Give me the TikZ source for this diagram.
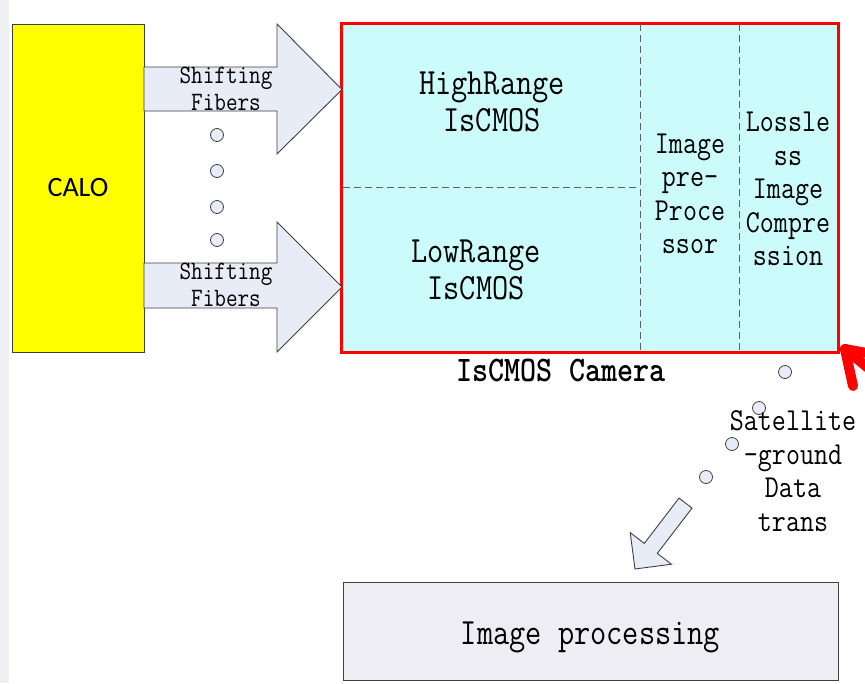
\documentclass[tikz,border=0pt]{standalone}
\usepackage{fontspec}
\newfontfamily\calofont{Carlito}
\usetikzlibrary{calc}
\definecolor{calofill}{HTML}{FFFF00}
\definecolor{camfill}{HTML}{CCFBFB}
\definecolor{arrfill}{HTML}{E8ECF6}
\definecolor{procfill}{HTML}{EFEDF4}
\definecolor{edgegray}{HTML}{404040}
\definecolor{dashgray}{HTML}{606060}
\definecolor{stripgray}{HTML}{EEF0F4}
\tikzset{
  box/.style={draw=edgegray, line width=1pt, inner sep=0pt},
  blockarrow/.style={draw=edgegray, fill=arrfill, line width=0.9pt, line join=miter},
  dot/.style={circle, draw=edgegray, fill=arrfill, line width=0.8pt, minimum size=13pt, inner sep=0pt},
  sepline/.style={draw=dashgray, line width=0.8pt, dash pattern=on 7pt off 4pt},
  lbl/.style={inner sep=0pt, align=center, xscale=0.85},
  biglbl/.style={lbl, font=\fontsize{37}{37}\selectfont\ttfamily},
  midlbl/.style={lbl, font=\fontsize{32}{33.5}\selectfont\ttfamily},
  smalllbl/.style={lbl, font=\fontsize{26.5}{27}\selectfont\ttfamily},
  redstroke/.style={draw=red, line width=10pt, line cap=round},
}
\begin{document}
\begin{tikzpicture}[x=1pt,y=-1pt]
\useasboundingbox (0,0) rectangle (865,683);
\fill[white] (0,0) rectangle (865,683);
\fill[stripgray] (0,0) rectangle (9,683);

% CALO block
\node[box, fill=calofill, minimum width=132pt, minimum height=328pt,
      font=\fontsize{28}{30}\selectfont\calofont] (calo) at (78,188) {CALO};

% Camera block
\node[draw=red, line width=2pt, fill=camfill, minimum width=496pt, minimum height=328pt, inner sep=0pt]
      (cam) at (590,188) {};
\coordinate (v1t) at (640,24);  \coordinate (v1b) at (640,352);
\coordinate (v2t) at (739,24);  \coordinate (v2b) at (739,352);
\coordinate (hl) at (343,187);  \coordinate (hr) at (640,187);
\draw[sepline] (v1t) -- (v1b);
\draw[sepline] (v2t) -- (v2b);
\draw[sepline] (hl) -- (hr);
\draw[draw=red, line width=2pt] (cam.north west) rectangle (cam.south east);

\node[biglbl] (high) at (492,102) {HighRange\\IsCMOS};
\node[biglbl] (low) at (476,270) {LowRange\\IsCMOS};
\node[midlbl] (pre) at (690,194) {Image\\pre-\\Proce\\ssor};
\node[midlbl] (loss) at (788,189) {Lossle\\ss\\Image\\Compre\\ssion};
\node[biglbl, font=\fontsize{36}{36}\selectfont\ttfamily\bfseries] (camlbl) at (561,370) {IsCMOS Camera};

% Shifting fiber arrows
\draw[blockarrow] (144,67) -- (277,67) -- (277,24) -- (342,89.5) -- (277,154) -- (277,111) -- (144,111) -- cycle;
\draw[blockarrow] (144,263) -- (277,263) -- (277,222) -- (342,287) -- (277,352) -- (277,308) -- (144,308) -- cycle;
\node[smalllbl] (sf1) at (226,88.5) {Shifting\\Fibers};
\node[smalllbl] (sf2) at (226,284.5) {Shifting\\Fibers};

% dots between fibers
\node[dot] (d1) at (217,135) {};
\node[dot] (d2) at (217,171) {};
\node[dot] (d3) at (217,207) {};
\node[dot] (d4) at (217,240) {};

% satellite link dots
\node[dot] (s1) at (785,372) {};
\node[dot] (s2) at (759,408) {};
\node[dot] (s3) at (732,444) {};
\node[dot] (s4) at (706,477) {};
\node[midlbl] (sat) at (793,471) {Satellite\\-ground\\Data\\trans};

% diagonal arrow
\draw[blockarrow] (679,498.1) -- (644.3,543.4) -- (630.2,532.6) -- (635,569) -- (671.4,564.2) -- (657.3,553.4) -- (692,508.1) -- cycle;

% Image processing
\node[box, fill=procfill, minimum width=495pt, minimum height=98pt] (proc) at (590.5,631) {};
\node[biglbl, anchor=base] (proclbl) at ($(proc.center)+(0,13)$) {Image processing};

% red pointer fragment at right edge
\coordinate (rtip) at (845,349);
\draw[redstroke] (rtip) -- (853,386);
\draw[redstroke] (rtip) -- (872,354);
\draw[redstroke] (rtip) -- (878,376);
\end{tikzpicture}
\end{document}
